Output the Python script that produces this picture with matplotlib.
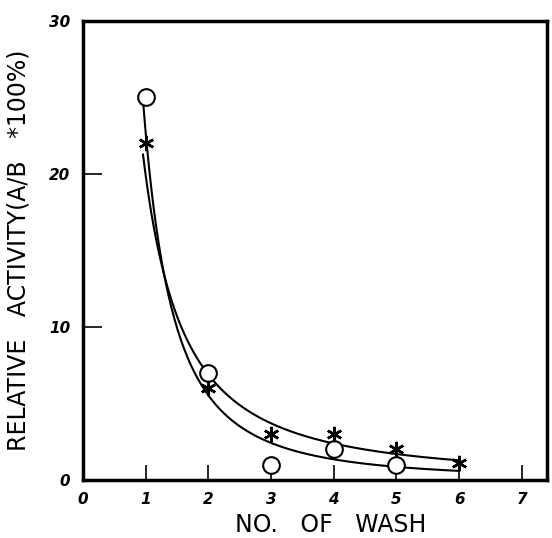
import numpy as np
import matplotlib
matplotlib.use("Agg")
import matplotlib.pyplot as plt

# washes vs relative activity, two series
wash_o = np.array([1, 2, 3, 4, 5])
act_o = np.array([25, 7, 1, 2, 1])
wash_s = np.array([1, 2, 3, 4, 5, 6])
act_s = np.array([22, 6, 3, 3, 2, 1.1])

xticks = [0, 1, 2, 3, 4, 5, 6, 7]
yticks = [0, 10, 20, 30]

# power-law fits y = a*x^b done in log space
po = np.polyfit(np.log(wash_o), np.log(act_o), 1)
ps = np.polyfit(np.log(wash_s), np.log(act_s), 1)
xx = np.linspace(0.96, 6, 300)

fig = plt.figure(figsize=(5.52, 5.38), dpi=100)
ax = fig.add_axes([0.150, 0.108, 0.841, 0.853])

ax.plot(xx, np.exp(np.polyval(po, np.log(xx))), color="black", lw=1.5)
ax.plot(xx, np.exp(np.polyval(ps, np.log(xx))), color="black", lw=1.5)
ax.plot(wash_o, act_o, "o", ms=12, mfc="white", mec="black", mew=1.5, ls="none")
ax.plot(wash_s, act_s, marker=(6, 2, 0), ms=11, color="black", mew=1.8, ls="none")

ax.set_xlim(0, 7.4)
ax.set_ylim(0, 30)
ax.set_xticks(xticks)
ax.set_yticks(yticks)
ax.set_xticklabels([str(t) for t in xticks], fontweight="bold", fontstyle="italic", fontsize=11)
ax.set_yticklabels([str(t) for t in yticks], fontweight="bold", fontstyle="italic", fontsize=11)
ax.tick_params(axis="x", direction="in", length=11, width=1.2, pad=9)
ax.tick_params(axis="y", direction="in", length=14, width=1.2, pad=9)
for s in ax.spines.values():
    s.set_linewidth(2.5)

ax.set_xlabel("NO.   OF   WASH", family="DejaVu Sans", fontsize=17)
ax.set_ylabel("RELATIVE   ACTIVITY(A/B   *100%)", family="DejaVu Sans", fontsize=17)
ax.xaxis.set_label_coords(0.534, -0.072)
ax.yaxis.set_label_coords(-0.112, 0.5)

fig.savefig("out.png", dpi=100)
